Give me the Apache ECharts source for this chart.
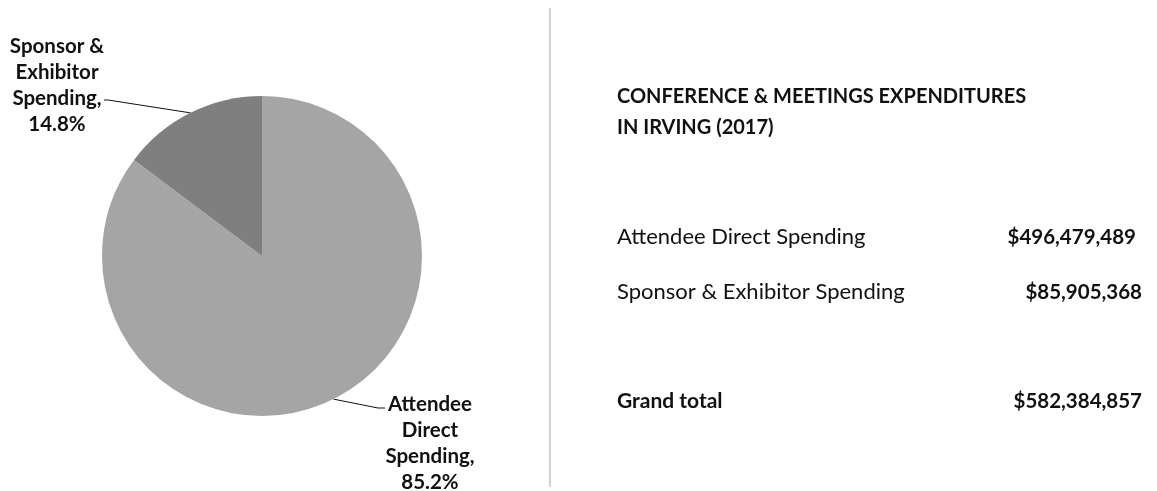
<!DOCTYPE html>
<html>
<head>
<meta charset="utf-8">
<script src="https://cdn.jsdelivr.net/npm/echarts@6/dist/echarts.min.js"></script>
<style>
html,body{margin:0;padding:0;background:#fff;}
#c{width:1157px;height:491px;}
</style>
</head>
<body>
<div id="c"></div>
<script>
const categories = ['Attendee Direct Spending', 'Sponsor & Exhibitor Spending'];
const labelNames = ['Attendee\nDirect\nSpending,', 'Sponsor &\nExhibitor\nSpending,'];
const values = [496479489, 85905368];
const sliceColors = ['#a5a5a5', '#7f7f7f'];
const titleLines = ['CONFERENCE & MEETINGS EXPENDITURES', 'IN IRVING (2017)'];
const totalLabel = 'Grand total';

const FONT = 'Lato';
const fmt = v => '$' + v.toLocaleString('en-US');
const total = values.reduce((a, b) => a + b, 0);

const chart = echarts.init(document.getElementById('c'), null, {renderer: 'canvas'});

// label anchor positions (label layout only)
const labelSpots = [
  {x: 430, y: 443, line: [[378, 408], [385, 408]]},
  {x: 57, y: 85, line: [[108, 100], [104, 100]]}
];

const graphics = [
  {type: 'line', shape: {x1: 550, y1: 8, x2: 550, y2: 487}, style: {stroke: '#a6a6a6', lineWidth: 1}},
  {type: 'text', x: 617, y: 97, style: {text: titleLines[0], font: 'bold 20px ' + FONT, fill: '#111', verticalAlign: 'middle'}},
  {type: 'text', x: 617, y: 128, style: {text: titleLines[1], font: 'bold 20px ' + FONT, fill: '#111', verticalAlign: 'middle'}}
];
const rowY = [237, 292];
categories.forEach((c, i) => {
  graphics.push({type: 'text', x: 617, y: rowY[i], style: {text: c, font: '22px ' + FONT, fill: '#111', verticalAlign: 'middle', align: 'left'}});
  graphics.push({type: 'text', x: i === 0 ? 1136 : 1142, y: rowY[i], style: {text: fmt(values[i]), font: 'bold 20.5px ' + FONT, fill: '#111', verticalAlign: 'middle', align: 'right'}});
});
graphics.push({type: 'text', x: 617, y: 401, style: {text: totalLabel, font: 'bold 21px ' + FONT, fill: '#111', verticalAlign: 'middle', align: 'left'}});
graphics.push({type: 'text', x: 1142, y: 401, style: {text: fmt(total), font: 'bold 20.5px ' + FONT, fill: '#111', verticalAlign: 'middle', align: 'right'}});

chart.setOption({
  animation: false,
  backgroundColor: '#fff',
  graphic: graphics,
  series: [{
    type: 'pie',
    center: [262, 256],
    radius: [0, 160],
    startAngle: 90,
    clockwise: true,
    percentPrecision: 1,
    data: categories.map((c, i) => ({name: c, value: values[i], itemStyle: {color: sliceColors[i]}})),
    itemStyle: {borderColor: '#ffffff', borderWidth: 0},
    emphasis: {disabled: true},
    label: {
      show: true,
      position: 'outside',
      formatter: p => labelNames[p.dataIndex] + '\n' + p.percent.toFixed(1) + '%',
      fontFamily: FONT,
      fontWeight: 'bold',
      fontSize: 20.5,
      lineHeight: 26,
      color: '#111',
      align: 'center'
    },
    labelLine: {show: true, lineStyle: {color: '#111', width: 1}},
    labelLayout: function (params) {
      const s = labelSpots[params.dataIndex];
      const start = params.labelLinePoints ? params.labelLinePoints[0] : s.line[0];
      return {
        x: s.x, y: s.y, align: 'center', verticalAlign: 'middle',
        labelLinePoints: [start, s.line[0], s.line[1]]
      };
    }
  }]
});
</script>
</body>
</html>
